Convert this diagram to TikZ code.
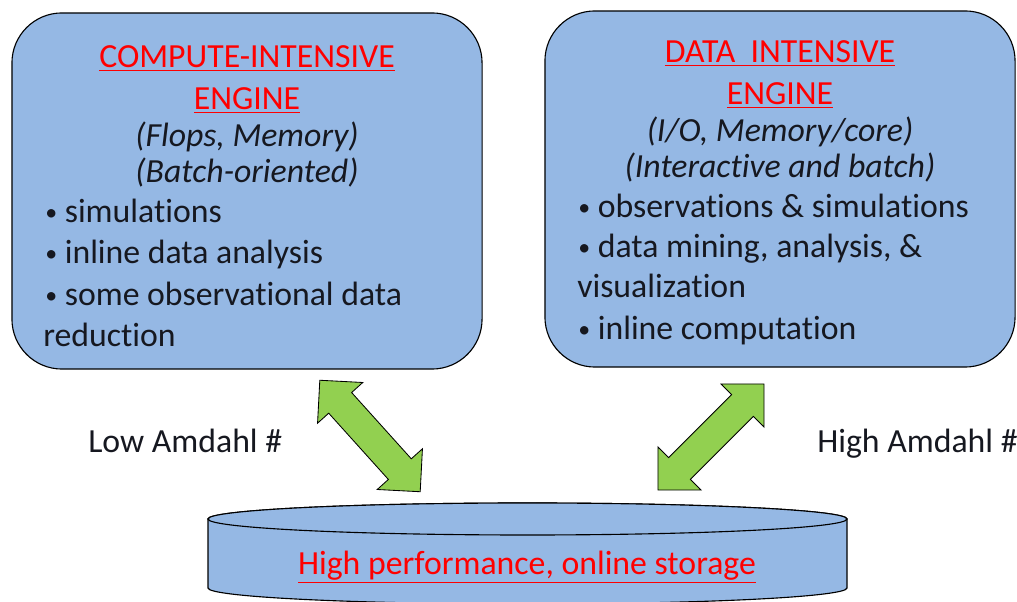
\documentclass[tikz,border=0pt]{standalone}
\usepackage{fontspec}
\setmainfont{Carlito}[Ligatures=NoCommon]
\usepackage{tikz}
\definecolor{boxblue}{RGB}{149,184,228}
\definecolor{arrowgreen}{RGB}{146,208,80}
\definecolor{titlered}{RGB}{255,0,0}
\definecolor{textdark}{RGB}{22,24,32}
\usetikzlibrary{shapes.arrows}
\usetikzlibrary{positioning}
\newcommand{\dotmark}{\raisebox{1.6pt}{\fontsize{17}{17}\selectfont •}\ }

\begin{document}
\begin{tikzpicture}[x=0.025cm, y=0.025cm]
        \tikzset{every node/.style={font=\fontsize{24}{29}\selectfont, text=textdark, inner sep=0pt},
                engine/.style={draw=black, line width=0.8pt, fill=boxblue, rounded corners=1.25cm, minimum width=11.75cm, minimum height=8.9cm},
                heading/.style={anchor=base, text=titlered},
                remark/.style={anchor=base, font=\fontsize{24}{29}\selectfont\itshape},
                item/.style={anchor=base west},
                link/.style={double arrow, draw=black, fill=arrowgreen, line width=0.6pt, inner xsep=0pt, inner ysep=0.375cm, minimum height=3.75cm, double arrow head extend=0.375cm}}

        \useasboundingbox (0,0) rectangle (1017,602);

        % compute-intensive engine
        \node[engine] (compute) at (247,411) {};
        \node[heading] (c1) at (247,534) {\underline{COMPUTE-INTENSIVE}};
        \node[heading] (c2) at (247,492) {\underline{ENGINE}};
        \node[remark] (c3) at (247,455) {(Flops, Memory)};
        \node[remark] (c4) at (247,419) {(Batch-oriented)};
        \node[item] (c5) at (45,379) {\dotmark simulations};
        \node[item] (c6) at (45,338) {\dotmark inline data analysis};
        \node[item] (c7) at (45,296) {\dotmark some observational data};
        \node[item] (c8) at (43,255) {reduction};

        % data-intensive engine
        \node[engine] (data) at (780,413) {};
        \node[heading] (d1) at (780,539) {\underline{DATA\ \ INTENSIVE}};
        \node[heading] (d2) at (780,497) {\underline{ENGINE}};
        \node[remark] (d3) at (780,460) {(I/O, Memory/core)};
        \node[remark] (d4) at (780,424) {(Interactive and batch)};
        \node[item] (d5) at (578,384) {\dotmark observations \& simulations};
        \node[item] (d6) at (578,344) {\dotmark data mining, analysis, \&};
        \node[item] (d7) at (577,304) {visualization};
        \node[item] (d8) at (578,262) {\dotmark inline computation};

        % storage
        \path[draw=black, line width=0.8pt, fill=boxblue] (208,83) -- (208,14)
                arc[start angle=180, end angle=360, x radius=319.5, y radius=16] -- (847,83)
                arc[start angle=0, end angle=180, x radius=319.5, y radius=16] -- cycle;
        \draw[line width=0.8pt, fill=boxblue] (527.5,83) ellipse [x radius=319.5, y radius=16];
        \node[anchor=base, text=titlered] (store) at (527,27) {\underline{High performance, online storage}};

        % links
        \node[link, rotate=-48] (lowlink) at (370,166) {};
        \node[link, rotate=45] (highlink) at (711,165) {};
        \node[anchor=base west] (lowam) at (88,149) {Low Amdahl \#};
        \node[anchor=base west] (highab) at (817,149) {High Amdahl \#};

\end{tikzpicture}
\end{document}
